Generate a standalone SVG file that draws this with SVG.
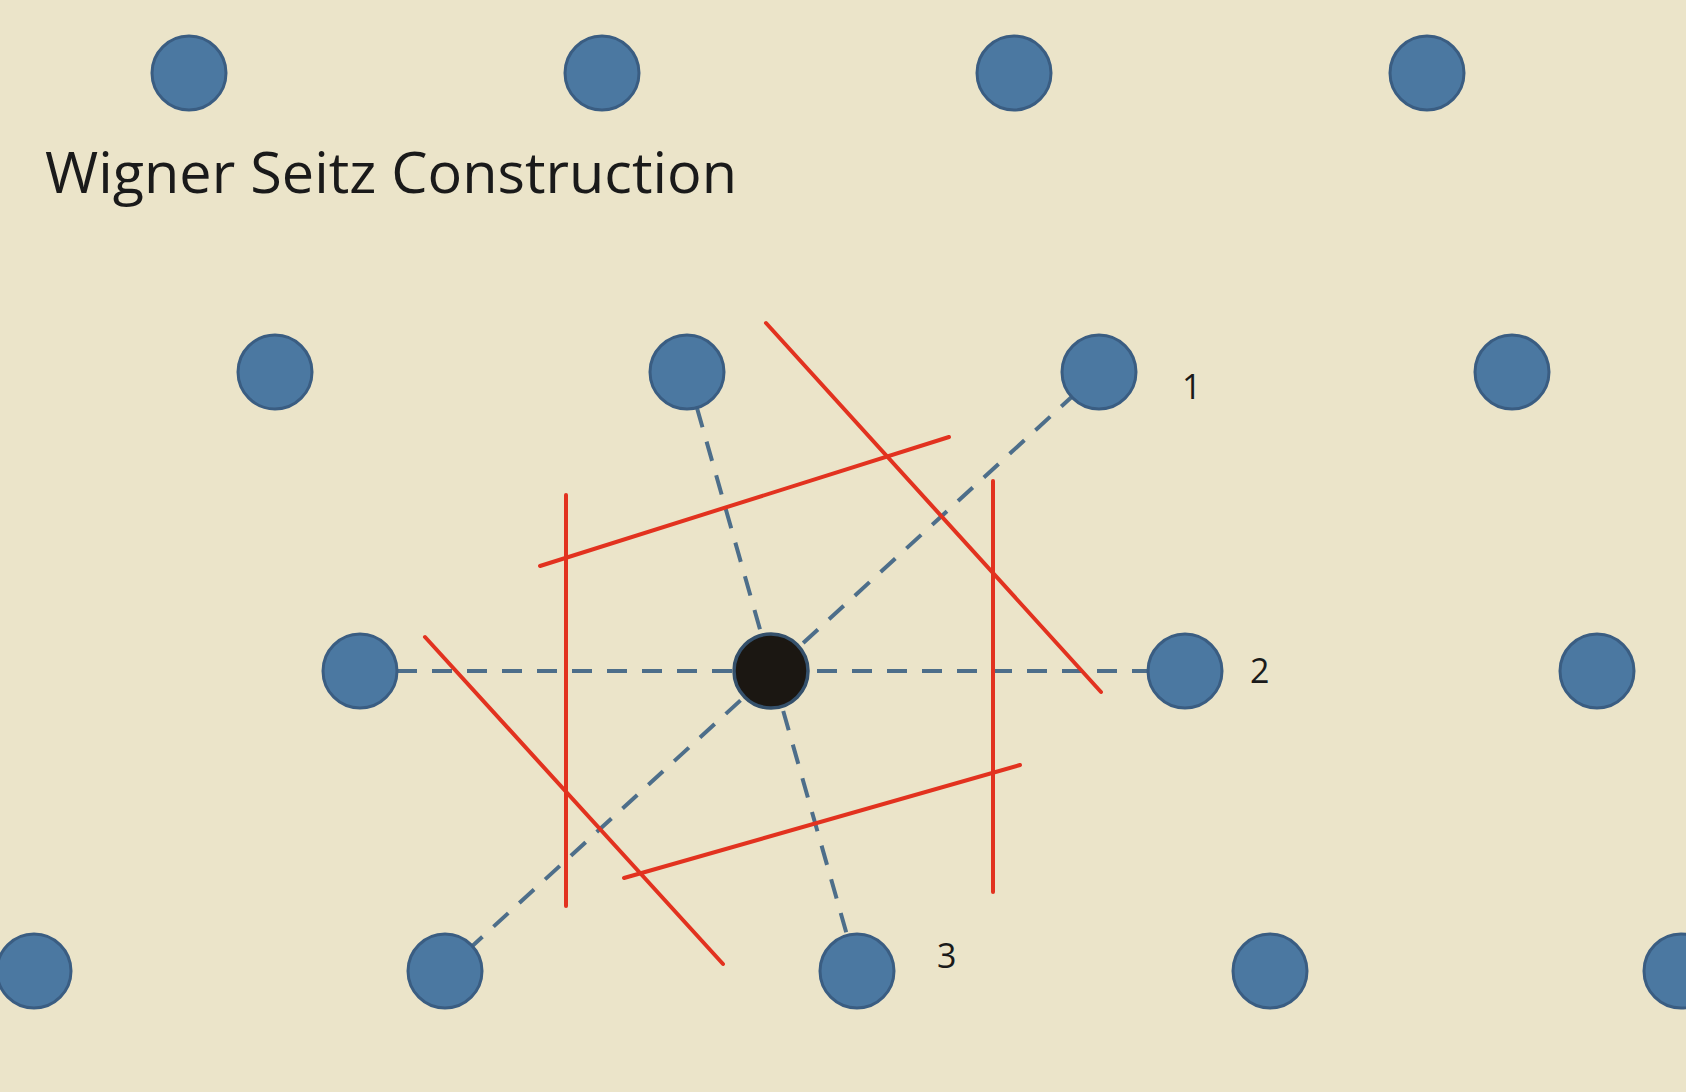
<svg xmlns="http://www.w3.org/2000/svg" width="1686" height="1092" viewBox="0 0 1686 1092">
<style>
.bg{fill:#ebe4c9}
.site{fill:#4b78a1;stroke:#3a5d82;stroke-width:3}
.center{fill:#1b1712;stroke:#34506b;stroke-width:3.5}
.dash{stroke:#4d6e8a;stroke-width:4;stroke-dasharray:20 15;fill:none}
.red{stroke:#e2321f;stroke-width:4;fill:none;stroke-linecap:round}
.title{font-family:"Open Sans","Liberation Sans",sans-serif;font-size:56px;fill:#1a1a1a}
.lbl{font-family:"Open Sans","Liberation Sans",sans-serif;font-size:34px;fill:#1a1a1a}
</style>
<rect class="bg" x="0" y="0" width="1686" height="1092"/>
<text class="title" x="45" y="193" textLength="692" lengthAdjust="spacingAndGlyphs">Wigner Seitz Construction</text>
<g id="connectors">
<line class="dash" x1="397" y1="671" x2="1148" y2="671"/>
<line class="dash" x1="1076" y1="393" x2="468" y2="950"/>
<line class="dash" x1="697" y1="408" x2="847" y2="935"/>
</g>
<g id="bisectors">
<line class="red" x1="766" y1="323" x2="1101" y2="692"/>
<line class="red" x1="425" y1="637" x2="723" y2="964"/>
<line class="red" x1="993" y1="481" x2="993" y2="892"/>
<line class="red" x1="566" y1="495" x2="566" y2="906"/>
<line class="red" x1="540" y1="566" x2="949" y2="437"/>
<line class="red" x1="624" y1="878" x2="1020" y2="765"/>
</g>
<g id="row1">
<circle id="n_r1_0" class="site" cx="189" cy="73" r="37"/>
<circle id="n_r1_1" class="site" cx="602" cy="73" r="37"/>
<circle id="n_r1_2" class="site" cx="1014" cy="73" r="37"/>
<circle id="n_r1_3" class="site" cx="1427" cy="73" r="37"/>
</g>
<g id="row2">
<circle id="n_r2_0" class="site" cx="275" cy="372" r="37"/>
<circle id="n_r2_1" class="site" cx="687" cy="372" r="37"/>
<circle id="n1" class="site" cx="1099" cy="372" r="37"/>
<circle id="n_r2_3" class="site" cx="1512" cy="372" r="37"/>
</g>
<g id="row3">
<circle id="n_r3_0" class="site" cx="360" cy="671" r="37"/>
<circle id="n_center" class="center" cx="771" cy="671" r="37"/>
<circle id="n2" class="site" cx="1185" cy="671" r="37"/>
<circle id="n_r3_3" class="site" cx="1597" cy="671" r="37"/>
</g>
<g id="row4">
<circle id="n_r4_0" class="site" cx="34" cy="971" r="37"/>
<circle id="n_r4_1" class="site" cx="445" cy="971" r="37"/>
<circle id="n3" class="site" cx="857" cy="971" r="37"/>
<circle id="n_r4_3" class="site" cx="1270" cy="971" r="37"/>
<circle id="n_r4_4" class="site" cx="1681" cy="971" r="37"/>
</g>
<g id="labels">
<text class="lbl" x="1182" y="399">1</text>
<text class="lbl" x="1250" y="683">2</text>
<text class="lbl" x="937" y="968">3</text>
</g>
</svg>
